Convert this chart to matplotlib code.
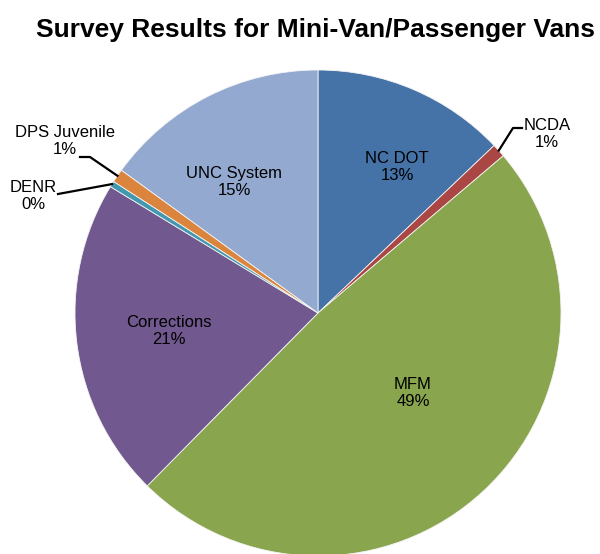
import numpy as np
import matplotlib.pyplot as plt

plt.rcParams['font.family'] = ['Liberation Sans', 'DejaVu Sans']

labels = ['NC DOT', 'NCDA', 'MFM', 'Corrections', 'DENR', 'DPS Juvenile', 'UNC System']
values = [12.9, 0.9, 48.6, 21.3, 0.4, 0.9, 15.0]
pct_text = ['13%', '1%', '49%', '21%', '0%', '1%', '15%']
colors = ['#4572A7', '#AA4643', '#89A54E', '#71588F', '#4198AF', '#DB843D', '#93A9CF']

fig = plt.figure(figsize=(6, 5.54), dpi=100)
ax = fig.add_axes([0, 0, 1, 1])

cx, cy, r = 318, 241, 243
wedges, _ = ax.pie(values, colors=colors, startangle=90, counterclock=False,
                   center=(cx, cy), radius=r, frame=True,
                   wedgeprops=dict(linewidth=0.6, edgecolor='#f4f4f4'))
ax.set_xlim(0, 600)
ax.set_ylim(0, 554)
ax.set_aspect('equal')
ax.axis('off')

fs = 12
ls = 1.2

# labels inside the slices
inside_pos = {0: (397, 387), 2: (413, 161), 3: (169, 223), 6: (234, 372)}
for i, (tx, ty) in inside_pos.items():
    ax.text(tx, ty, labels[i] + '\n' + pct_text[i], ha='center', va='center',
            fontsize=fs, linespacing=ls)

def edge(i):
    w = wedges[i]
    mid = np.deg2rad((w.theta1 + w.theta2) / 2)
    return cx + r * np.cos(mid), cy + r * np.sin(mid)

# NCDA
x0, y0 = edge(1)
ax.plot([x0, 513, 522], [y0, 426, 426], color='black', lw=1.6)
ax.text(547, 420, labels[1] + '\n' + pct_text[1], ha='center', va='center',
        fontsize=fs, linespacing=ls)

# DPS Juvenile
x0, y0 = edge(5)
ax.plot([x0, 90, 80], [y0, 397, 397], color='black', lw=1.6)
ax.text(65, 413, labels[5] + '\n' + pct_text[5], ha='center', va='center',
        fontsize=fs, linespacing=ls)

# DENR
x0, y0 = edge(4)
ax.plot([x0, 58], [y0, 360], color='black', lw=1.6)
ax.text(33, 358, labels[4] + '\n' + pct_text[4], ha='center', va='center',
        fontsize=fs, linespacing=ls)

fig.text(0.525, 0.946, 'Survey Results for Mini-Van/Passenger Vans',
         ha='center', va='center', fontsize=19, fontweight='bold')

fig.savefig('out.png', dpi=100)
